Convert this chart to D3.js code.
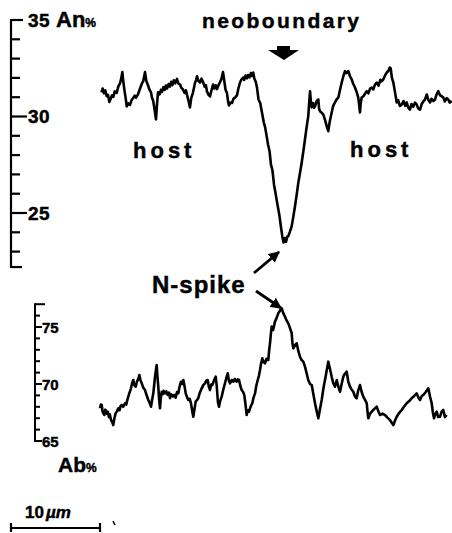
<!DOCTYPE html>
<html>
<head>
<meta charset="utf-8">
<script src="https://cdn.jsdelivr.net/npm/d3@7"></script>
<style>
  body { margin: 0; background: #fff; }
  text { font-family: "Liberation Sans", Arial, Helvetica, sans-serif; font-weight: bold; fill: #000; stroke: #000; stroke-width: 0.45px; }
</style>
</head>
<body>
<div class="viz"></div>
<script>

// An% profile across the neoboundary: [distance (µm), An %]
const anProfile = [
  [10.17,31.25],[10.30,31.45],[10.45,31.20],[10.60,31.35],[10.75,31.05],[10.90,31.12],[11.05,30.75],[11.20,30.92],
  [11.35,31.10],[11.50,31.02],[11.65,31.30],[11.88,31.22],[12.05,31.55],[12.25,31.72],[12.40,32.00],[12.51,32.30],
  [12.62,31.80],[12.75,31.35],[12.90,30.90],[13.00,30.52],[13.15,30.68],[13.37,30.60],[13.55,30.85],[13.71,30.95],
  [13.90,31.08],[14.05,30.98],[14.27,31.15],[14.50,31.45],[14.70,31.70],[14.85,31.82],[14.95,32.05],[15.06,32.30],
  [15.20,31.85],[15.39,31.62],[15.55,31.40],[15.73,31.25],[15.85,30.95],[15.96,30.85],[16.12,30.40],[16.29,29.85],
  [16.40,30.60],[16.52,31.25],[16.70,31.15],[16.85,31.38],[16.97,31.28],[17.12,31.52],[17.27,31.38],[17.40,31.60],
  [17.53,31.45],[17.70,31.68],[17.85,31.55],[18.00,31.80],[18.12,31.62],[18.30,31.88],[18.45,31.72],[18.65,31.95],
  [18.80,31.72],[18.99,31.66],[19.15,31.48],[19.33,31.40],[19.50,31.22],[19.65,31.35],[19.80,31.08],[19.95,30.80],
  [20.11,30.47],[20.25,30.95],[20.45,31.24],[20.65,31.70],[20.80,31.90],[20.90,32.08],[21.05,31.85],[21.24,31.76],
  [21.40,31.96],[21.57,31.80],[21.75,31.55],[21.90,31.62],[22.02,31.30],[22.20,31.12],[22.36,31.04],[22.55,31.40],
  [22.70,31.66],[22.85,31.45],[23.00,31.62],[23.15,31.42],[23.30,31.60],[23.45,31.75],[23.65,31.95],[23.82,32.30],
  [23.95,31.90],[24.10,31.40],[24.27,31.20],[24.40,30.75],[24.49,30.57],[24.65,30.72],[24.83,30.70],[25.00,30.92],
  [25.20,31.00],[25.39,31.10],[25.55,31.45],[25.73,31.76],[25.90,31.92],[26.07,32.02],[26.20,31.90],[26.35,32.12],
  [26.50,31.98],[26.63,32.15],[26.78,32.02],[26.95,32.25],[27.08,32.10],[27.22,32.28],[27.35,31.95],[27.50,31.80],
  [27.64,31.50],[27.81,30.88],[28.00,30.70],[28.20,30.21],[28.40,29.70],[28.55,29.45],[28.70,29.05],[28.88,28.55],
  [29.05,28.20],[29.21,27.51],[29.38,27.20],[29.55,26.48],[29.75,25.95],[29.94,25.44],[30.15,24.90],[30.34,24.25],
  [30.48,23.80],[30.62,23.47],[30.75,23.70],[30.90,23.50],[31.05,23.78],[31.16,23.80],[31.35,24.05],[31.54,24.32],
  [31.72,24.80],[31.91,25.35],[32.10,25.95],[32.28,26.56],[32.48,27.10],[32.66,27.60],[32.85,28.20],[33.03,28.81],
  [33.20,29.40],[33.40,30.02],[33.50,30.70],[33.60,31.31],[33.70,30.75],[33.79,30.47],[33.95,30.70],[34.05,30.45],
  [34.16,30.53],[34.35,30.80],[34.53,30.88],[34.62,30.40],[34.72,30.27],[34.90,30.20],[35.09,30.10],[35.30,29.80],
  [35.50,29.45],[35.65,29.24],[35.80,29.70],[36.03,30.21],[36.20,30.55],[36.40,30.73],[36.60,30.90],[36.78,30.98],
  [36.95,31.35],[37.16,31.76],[37.35,32.10],[37.53,32.35],[37.70,32.25],[37.90,32.35],[38.08,32.10],[38.28,31.92],
  [38.45,31.70],[38.65,31.50],[38.85,31.25],[39.02,30.98],[39.12,30.60],[39.21,30.21],[39.30,30.70],[39.40,30.98],
  [39.60,31.05],[39.80,31.20],[39.97,31.31],[40.15,31.20],[40.35,31.45],[40.53,31.50],[40.70,31.40],[40.90,31.65],
  [41.09,31.76],[41.30,31.60],[41.50,31.90],[41.65,31.82],[41.83,31.92],[42.05,32.15],[42.25,32.30],[42.39,32.35],
  [42.55,32.54],[42.66,32.50],[42.80,32.00],[42.96,31.76],[43.15,31.25],[43.34,30.73],[43.50,30.85],[43.70,30.55],
  [43.90,30.62],[44.10,30.80],[44.30,30.55],[44.46,30.73],[44.65,30.45],[44.83,30.36],[45.00,30.65],[45.20,30.50],
  [45.40,30.72],[45.58,30.62],[45.75,30.42],[45.96,30.36],[46.15,30.65],[46.35,30.80],[46.52,30.88],[46.71,31.14],
  [46.90,30.85],[47.08,30.73],[47.25,30.92],[47.45,30.80],[47.64,30.88],[47.82,31.15],[48.01,31.31],[48.20,31.10],
  [48.40,31.05],[48.57,30.98],[48.75,30.78],[48.95,30.95],[49.13,30.88],[49.30,30.72],[49.52,30.80]
]

// Ab% profile: [distance (µm), Ab %]
const abProfile = [
  [10.00,67.87],[10.10,68.20],[10.19,68.16],[10.30,67.55],[10.48,67.28],[10.60,67.75],[10.75,67.40],[10.87,67.57],
  [11.00,67.10],[11.10,67.35],[11.24,66.84],[11.35,66.70],[11.49,66.40],[11.62,67.00],[11.76,67.43],[11.90,67.60],
  [12.06,67.87],[12.20,67.70],[12.30,68.05],[12.44,68.16],[12.60,68.00],[12.81,68.30],[12.95,68.20],[13.05,68.55],
  [13.18,68.89],[13.30,69.20],[13.48,69.62],[13.60,70.05],[13.74,70.35],[13.85,69.90],[14.01,69.76],[14.15,70.20],
  [14.30,70.45],[14.42,70.79],[14.55,70.30],[14.69,70.06],[14.85,69.70],[15.06,69.47],[15.20,69.10],[15.43,68.60],
  [15.60,68.30],[15.73,68.01],[15.85,68.60],[15.99,69.18],[16.10,70.00],[16.18,70.64],[16.28,71.20],[16.37,71.67],
  [16.46,70.60],[16.55,69.76],[16.65,68.60],[16.74,67.87],[16.84,68.80],[16.93,69.32],[17.05,69.10],[17.15,69.40],
  [17.30,69.18],[17.45,69.35],[17.60,69.05],[17.75,69.25],[17.87,68.75],[18.00,69.10],[18.20,68.90],[18.35,69.04],
  [18.50,68.80],[18.65,69.30],[18.80,69.18],[18.95,69.80],[19.10,70.20],[19.25,70.00],[19.36,70.35],[19.50,69.80],
  [19.63,69.18],[19.78,68.85],[19.92,68.60],[20.08,68.70],[20.22,68.31],[20.35,67.70],[20.48,67.13],[20.62,67.80],
  [20.75,68.45],[20.90,68.60],[21.04,68.75],[21.20,69.20],[21.43,69.62],[21.60,69.90],[21.80,70.06],[21.95,70.30],
  [22.10,70.35],[22.22,69.80],[22.36,69.47],[22.50,69.95],[22.62,69.91],[22.80,70.30],[23.00,70.64],[23.12,69.80],
  [23.25,68.40],[23.37,68.01],[23.50,68.50],[23.67,68.89],[23.85,69.50],[24.04,70.06],[24.20,70.55],[24.35,70.94],
  [24.48,70.30],[24.61,70.06],[24.80,70.35],[24.98,70.20],[25.15,70.45],[25.36,70.20],[25.50,70.40],[25.62,70.35],
  [25.78,69.80],[25.92,69.47],[26.08,69.30],[26.21,69.04],[26.35,68.20],[26.48,67.28],[26.60,67.70],[26.74,67.57],
  [26.92,68.00],[27.11,68.31],[27.25,68.80],[27.42,69.18],[27.55,69.80],[27.72,70.35],[27.85,70.70],[27.98,71.23],
  [28.10,71.80],[28.24,72.25],[28.40,71.90],[28.54,71.81],[28.70,72.20],[28.91,72.10],[29.00,72.90],[29.10,73.57],
  [29.20,74.40],[29.29,75.03],[29.45,74.74],[29.66,75.47],[29.85,75.80],[30.03,76.20],[30.20,76.40],[30.42,76.64],
  [30.60,76.20],[30.79,75.90],[30.95,75.60],[31.16,75.32],[31.35,74.90],[31.54,74.45],[31.62,73.60],[31.72,73.13],
  [31.90,73.40],[32.10,73.57],[32.28,72.90],[32.47,72.39],[32.65,72.10],[32.84,71.96],[33.03,71.52],[33.20,71.00],
  [33.40,70.35],[33.60,70.00],[33.79,69.91],[34.00,69.00],[34.16,68.31],[34.35,67.60],[34.53,66.99],[34.72,67.80],
  [34.91,68.60],[35.10,69.60],[35.28,70.35],[35.45,71.10],[35.65,71.96],[35.85,71.30],[36.03,70.64],[36.20,70.10],
  [36.40,69.76],[36.60,70.35],[36.80,69.70],[36.97,69.32],[37.15,70.00],[37.34,70.64],[37.52,70.90],[37.72,71.08],
  [37.90,70.20],[38.09,69.76],[38.28,69.50],[38.46,69.32],[38.65,68.90],[38.84,68.75],[39.00,69.40],[39.21,69.91],
  [39.40,69.30],[39.58,68.89],[39.78,68.60],[39.97,68.31],[40.08,67.40],[40.15,66.99],[40.35,67.40],[40.53,67.57],
  [40.80,67.80],[41.09,68.01],[41.28,67.60],[41.46,67.28],[41.75,67.40],[42.02,67.28],[42.30,67.05],[42.58,66.84],
  [42.78,66.60],[42.96,66.40],[43.15,66.80],[43.34,67.13],[43.60,67.45],[43.90,67.72],[44.15,68.00],[44.46,68.31],
  [44.75,68.50],[45.02,68.75],[45.30,68.95],[45.58,69.18],[45.78,68.80],[45.96,68.60],[46.15,68.95],[46.33,69.04],
  [46.60,69.30],[46.89,69.62],[47.08,68.90],[47.27,68.31],[47.40,67.50],[47.53,66.99],[47.68,67.40],[47.83,67.57],
  [48.00,67.10],[48.20,67.13],[48.40,67.60],[48.57,67.72],[48.75,67.10],[48.95,67.28]
]

const anTicks = d3.range(23, 36)          // 23 .. 35, one per unit
const anLabels = [25, 30, 35]
const anBottom = 22.2
const abTicks = d3.range(65, 78)          // 65 .. 77
const abLabels = [65, 70, 75]
const scaleBarLength = 10                 // µm

const width = 452
const height = 533

const svg = d3.select('.viz').append('svg')
  .attr('width', width)
  .attr('height', height)

// shared distance axis (µm)
const x = d3.scaleLinear().domain([0, 50]).range([11, 456])

const yAn = d3.scaleLinear().domain([25, 35]).range([213, 20])
const yAb = d3.scaleLinear().domain([65, 75]).range([441, 327])

// ---- An% axis
const gAn = svg.append('g').attr('stroke', '#000').attr('stroke-width', 2.2)
gAn.append('line')
  .attr('x1', 11).attr('x2', 11)
  .attr('y1', yAn(35) - 1).attr('y2', yAn(anBottom) + 1)
gAn.selectAll('.tk')
  .data(anTicks)
  .join('line')
  .attr('x1', 11)
  .attr('x2', d => d === 35 ? 23 : (anLabels.includes(d) ? 27 : 20))
  .attr('y1', d => yAn(d)).attr('y2', d => yAn(d))
gAn.append('line')
  .attr('x1', 11).attr('x2', 22)
  .attr('y1', yAn(anBottom)).attr('y2', yAn(anBottom))

svg.append('g').selectAll('text')
  .data(anLabels)
  .join('text')
  .attr('x', 28)
  .attr('y', d => yAn(d))
  .attr('dy', '0.36em')
  .style('font-size', '19px')
  .style('letter-spacing', '0.5px')
  .text(d => d)

svg.append('text')
  .attr('x', 56).attr('y', yAn(35) + 7)
  .style('font-size', '22px')
  .text('An')
  .append('tspan')
  .style('font-size', '12px')
  .text('%')

// ---- Ab% axis
const gAb = svg.append('g').attr('stroke', '#000').attr('stroke-width', 2)
gAb.append('line')
  .attr('x1', 35).attr('x2', 35)
  .attr('y1', yAb(77) - 1).attr('y2', yAb(65) + 1)
gAb.selectAll('.tk')
  .data(abTicks)
  .join('line')
  .attr('x1', 35)
  .attr('x2', d => d === 77 ? 45 : (abLabels.includes(d) ? 42 : 40))
  .attr('y1', d => yAb(d)).attr('y2', d => yAb(d))

svg.append('g').selectAll('text')
  .data(abLabels)
  .join('text')
  .attr('x', 42)
  .attr('y', d => yAb(d))
  .attr('dy', '0.38em')
  .style('font-size', '15px')
  .text(d => d)

svg.append('text')
  .attr('x', 58).attr('y', 472)
  .style('font-size', '21px')
  .text('Ab')
  .append('tspan')
  .style('font-size', '12px')
  .text('%')

// ---- profiles
const lineAn = d3.line().x(d => x(d[0])).y(d => yAn(d[1]))
const lineAb = d3.line().x(d => x(d[0])).y(d => yAb(d[1]))

svg.append('path')
  .datum(anProfile)
  .attr('fill', 'none')
  .attr('stroke', '#000')
  .attr('stroke-width', 2.6)
  .attr('stroke-linejoin', 'round')
  .attr('d', lineAn)

svg.append('path')
  .datum(abProfile)
  .attr('fill', 'none')
  .attr('stroke', '#000')
  .attr('stroke-width', 2.6)
  .attr('stroke-linejoin', 'round')
  .attr('d', lineAb)

// ---- annotations
svg.append('text')
  .attr('x', 202).attr('y', 28)
  .style('font-size', '21px')
  .style('letter-spacing', '2.4px')
  .text('neoboundary')

svg.append('path')
  .attr('d', 'M277,46 L290,46 L290,50 L299,50 L284,60 L268,50 L277,50 Z')
  .attr('fill', '#000')

svg.selectAll('.host')
  .data([[133, 158], [350, 157]])
  .join('text')
  .attr('x', d => d[0]).attr('y', d => d[1])
  .style('font-size', '22px')
  .style('letter-spacing', '4px')
  .text('host')

svg.append('text')
  .attr('x', 152).attr('y', 293)
  .style('font-size', '24px')
  .style('letter-spacing', '1px')
  .text('N-spike')

svg.append('defs').append('marker')
  .attr('id', 'head')
  .attr('viewBox', '0 0 10 10')
  .attr('refX', 9).attr('refY', 5)
  .attr('markerWidth', 4).attr('markerHeight', 4)
  .attr('markerUnits', 'strokeWidth')
  .attr('orient', 'auto')
  .append('path')
  .attr('d', 'M0,0 L10,5 L0,10 Z')
  .attr('fill', '#000')

svg.selectAll('.arrow')
  .data([[254, 273, 279, 252], [256, 291, 281, 308]])
  .join('line')
  .attr('x1', d => d[0]).attr('y1', d => d[1])
  .attr('x2', d => d[2]).attr('y2', d => d[3])
  .attr('stroke', '#000')
  .attr('stroke-width', 2.8)
  .attr('marker-end', 'url(#head)')

// ---- scale bar
const gBar = svg.append('g').attr('stroke', '#000').attr('stroke-width', 2.2)
gBar.append('line')
  .attr('x1', x(0)).attr('x2', x(scaleBarLength))
  .attr('y1', 528).attr('y2', 528)
gBar.selectAll('.end')
  .data([0, scaleBarLength])
  .join('line')
  .attr('x1', d => x(d)).attr('x2', d => x(d))
  .attr('y1', 523).attr('y2', 532)
gBar.append('line')
  .attr('x1', 113).attr('y1', 521)
  .attr('x2', 115).attr('y2', 525)
  .attr('stroke-width', 1.5)

svg.append('text')
  .attr('x', 25).attr('y', 518)
  .style('font-size', '17px')
  .text(scaleBarLength)
  .append('tspan')
  .attr('dx', 2)
  .style('font-style', 'italic')
  .text('µm')

</script>
</body>
</html>
